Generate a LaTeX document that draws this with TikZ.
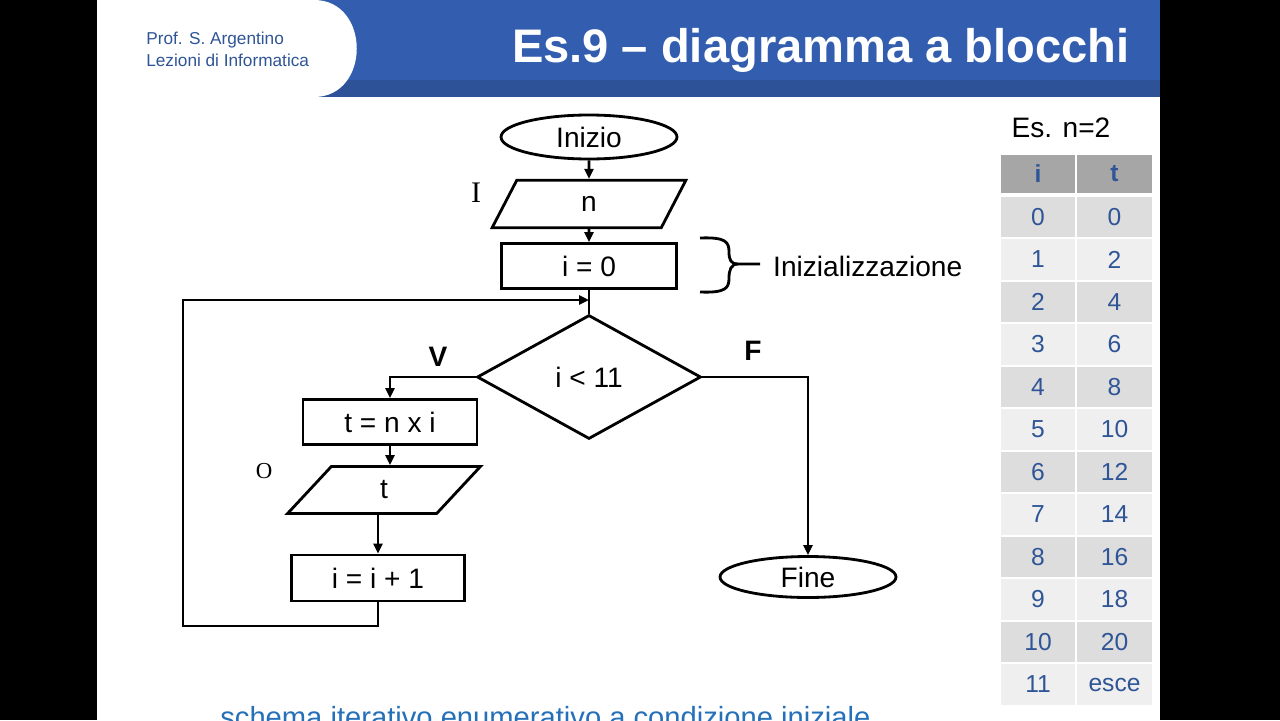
\documentclass[tikz,border=0pt]{standalone}
\usepackage{fontspec}
\setmainfont{Liberation Sans}
\newfontfamily\labelserif{Liberation Serif}
\usepackage{tikz}
\usetikzlibrary{arrows.meta,positioning,shapes.geometric}

\definecolor{bandblue}{RGB}{51,94,175}
\definecolor{banddark}{RGB}{45,82,152}
\definecolor{textblue}{RGB}{47,85,151}
\definecolor{noteblue}{RGB}{37,112,185}
\definecolor{headgray}{RGB}{166,166,166}
\definecolor{rowdark}{RGB}{221,221,221}
\definecolor{rowlight}{RGB}{239,239,239}

\begin{document}
\begin{tikzpicture}[
    x=0.02cm, y=-0.02cm,
    every node/.style={font=\fontsize{16}{19}\selectfont},
    box/.style={draw, line width=1.6pt, minimum width=3.5cm,
                minimum height=0.9cm, inner sep=0pt},
    term/.style={draw, ellipse, line width=1.6pt, minimum width=3.52cm,
                 minimum height=0.88cm, inner sep=0pt},
    io/.style={draw, trapezium, trapezium left angle=80, trapezium right angle=100,
               trapezium stretches=true, line width=1.6pt, minimum width=3.88cm,
               minimum height=0.95cm, inner sep=0pt},
    test/.style={draw, diamond, line width=1.6pt, minimum width=4.48cm,
                 minimum height=2.48cm, inner sep=0pt},
    arr/.style={-{Triangle[length=2mm,width=1.8mm]}, line width=1.6pt},
    wire/.style={line width=1.6pt},
    cell/.style={minimum width=1.48cm, minimum height=0.81cm, inner sep=0pt,
                 text=textblue, font=\fontsize{14}{17}\selectfont}
  ]
    \path[use as bounding box] (0,0) rectangle (1280,720);
    \clip (0,0) rectangle (1280,720);
    \fill[black] (0,0) rectangle (1280,720);
    \fill[white] (97,0) rectangle (1160,720);

    % header band
    \fill[bandblue] (97,0) rectangle (1160,97);
    \fill[banddark] (97,80) rectangle (1160,97);
    \fill[white] (97,0) -- (314,0) .. controls (371,0) and (371,97) .. (314,97)
      -- (97,97) -- cycle;
    \node[anchor=west, align=left, inner sep=0pt, text=textblue,
          font=\fontsize{9.8}{12.5}\selectfont] (author) at (146,49)
      {Prof. S. Argentino\\Lezioni di Informatica};
    \node[anchor=east, inner sep=0pt, text=white,
          font=\fontsize{26.8}{32}\bfseries\selectfont]
      (title) at (1130,50) {Es.9 – diagramma a blocchi};

    % flowchart
    \node[term] (inizio) at (589,137) {Inizio};
    \node[io] (read) at (589,204) {n};
    \node[box] (init) at (589,266) {i = 0};
    \node[test] (cond) at (589,377) {i < 11};
    \node[box, minimum width=3.48cm] (calc) at (390,422) {t = n x i};
    \node[io, minimum width=3.86cm, minimum height=0.94cm] (write) at (384,490) {t};
    \node[box, minimum width=3.46cm, minimum height=0.92cm] (incr) at (378,578) {i = i + 1};
    \node[term, minimum height=0.82cm] (fine) at (808,577) {Fine};

    \node[font=\labelserif\fontsize{17}{20}\selectfont] (lblin) at (476,193) {I};
    \node[font=\labelserif\fontsize{13}{16}\selectfont] (lblout) at (264,471) {O};
    \node[font=\fontsize{16}{19}\bfseries\selectfont] (lblv) at (438,357) {V};
    \node[font=\fontsize{16}{19}\bfseries\selectfont] (lblf) at (753,351) {F};
    \node[anchor=west] (initnote) at (767,266) {Inizializzazione};

    \coordinate (join) at (589,300);
    \coordinate (loopbot) at (183,626);

    \foreach \a/\b in {inizio/read, read/init}
      \draw[arr] (\a) -- (\b);
    \draw[wire] (init) -- (cond);
    \draw[arr] (cond.west) -| (calc.north);
    \draw[arr] (cond.east) -| (fine.north);
    \draw[arr] (calc) -- (calc |- write.north);
    \draw[arr] (incr |- write.south) -- (incr);
    \draw[arr] (incr.south) |- (loopbot) |- (join);

    % brace
    \draw[wire] (700,238) .. controls (726,237) and (729,242) .. (729,252)
      .. controls (729,260) and (731,264) .. (738,264) -- (760,264);
    \draw[wire] (700,292) .. controls (726,293) and (729,288) .. (729,278)
      .. controls (729,270) and (731,264) .. (738,264);

    % table
    \node (example) at (1061,128) {Es. n=2};
    \node[cell, fill=headgray, minimum height=0.76cm,
          font=\fontsize{14}{17}\bfseries\selectfont] (hi) at (1038,174) {i};
    \node[cell, fill=headgray, minimum height=0.76cm, minimum width=1.5cm,
          font=\fontsize{14}{17}\bfseries\selectfont] (ht) at (1114.5,174) {t};
    \foreach \iv/\tv [count=\r from 0] in {0/0,1/2,2/4,3/6,4/8,5/10,6/12,
                                            7/14,8/16,9/18,10/20,11/esce} {
      \pgfmathsetmacro\ypos{217+42.5*\r}
      \ifodd\r \def\rowcol{rowlight}\else \def\rowcol{rowdark}\fi
      \node[cell, fill=\rowcol] (ci\r) at (1038,\ypos) {\iv};
      \node[cell, fill=\rowcol, minimum width=1.5cm] (ct\r) at (1114.5,\ypos) {\tv};
    }

    \node[anchor=base west, inner sep=0pt, text=noteblue,
          font=\fontsize{16.6}{20}\selectfont]
      (note) at (220,727) {schema iterativo enumerativo a condizione iniziale};
  \end{tikzpicture}
\end{document}
